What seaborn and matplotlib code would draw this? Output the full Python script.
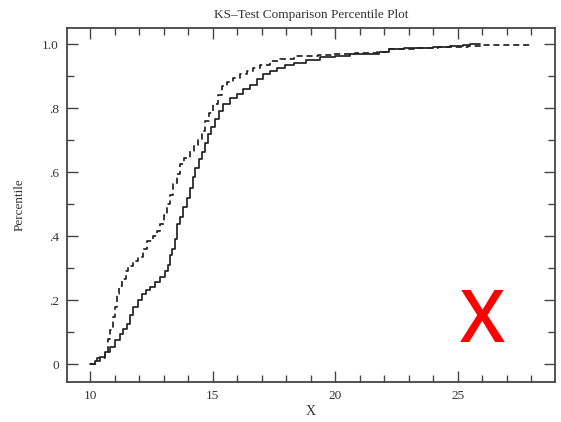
import matplotlib
matplotlib.use("Agg")
import matplotlib.pyplot as plt
from matplotlib.ticker import MultipleLocator, FixedLocator
import seaborn as sns

# ---- data ----
solid_x = [10.0, 10.2, 10.41, 10.6, 10.82, 11.0, 11.22, 11.35, 11.5, 11.65, 11.77, 11.95,
           12.1, 12.3, 12.45, 12.65, 12.86, 13.05, 13.2, 13.27, 13.33, 13.45, 13.54, 13.65,
           13.8, 13.95, 14.08, 14.2, 14.29, 14.45, 14.56, 14.7, 14.83, 14.95, 15.1, 15.25,
           15.43, 15.7, 16.0, 16.25, 16.53, 16.8, 17.06, 17.35, 17.63, 17.95, 18.3, 18.8,
           19.4, 20.0, 20.6, 21.2, 21.8, 22.2, 22.8, 23.3, 24.0, 24.7, 25.2, 25.5, 25.9]
solid_y = [0.0, 0.01, 0.023, 0.04, 0.054, 0.075, 0.095, 0.11, 0.127, 0.155, 0.179, 0.20,
           0.22, 0.232, 0.241, 0.257, 0.272, 0.29, 0.31, 0.34, 0.36, 0.39, 0.438, 0.46,
           0.49, 0.52, 0.552, 0.585, 0.614, 0.64, 0.662, 0.69, 0.718, 0.74, 0.765, 0.79,
           0.813, 0.83, 0.844, 0.86, 0.872, 0.89, 0.905, 0.915, 0.925, 0.935, 0.942, 0.95,
           0.958, 0.963, 0.968, 0.97, 0.974, 0.984, 0.987, 0.989, 0.991, 0.994, 0.997, 1.0, 1.0]

dashed_x = [10.0, 10.3, 10.6, 10.75, 10.82, 10.95, 11.02, 11.09, 11.2, 11.29, 11.45, 11.56,
            11.75, 11.97, 12.15, 12.31, 12.58, 12.75, 12.86, 13.0, 13.13, 13.27, 13.4, 13.55,
            13.67, 13.85, 14.08, 14.25, 14.42, 14.55, 14.69, 14.85, 15.0, 15.2, 15.37, 15.6,
            15.84, 16.1, 16.4, 16.65, 16.94, 17.35, 17.76, 18.3, 18.8, 19.3, 19.9, 20.8,
            21.7, 22.2, 23.2, 24.2, 25.4, 26.0, 28.0]
dashed_y = [0.0, 0.02, 0.04, 0.08, 0.106, 0.147, 0.18, 0.22, 0.245, 0.267, 0.29, 0.308,
            0.322, 0.336, 0.36, 0.386, 0.402, 0.415, 0.438, 0.465, 0.50, 0.53, 0.563, 0.595,
            0.625, 0.645, 0.667, 0.685, 0.703, 0.73, 0.76, 0.785, 0.813, 0.84, 0.869, 0.882,
            0.895, 0.905, 0.916, 0.926, 0.936, 0.947, 0.953, 0.962, 0.964, 0.967, 0.968, 0.972,
            0.976, 0.984, 0.988, 0.991, 0.994, 0.997, 0.997]

x_ticks = [10, 15, 20, 25]
x_tick_labels = ["10", "15", "20", "25"]
y_ticks = [0, 0.2, 0.4, 0.6, 0.8, 1.0]
y_tick_labels = ["0", ".2", ".4", ".6", ".8", "1.0"]

title = "KS\u2013Test Comparison Percentile Plot"
x_label = "X"
y_label = "Percentile"
mark_text = "X"

# ---- style ----
sns.set_theme(style="white")
plt.rcParams["font.family"] = ["Liberation Serif", "DejaVu Serif"]
txt = "#333333"

fig = plt.figure(figsize=(5.61, 4.22), dpi=100)
ax = fig.add_axes([0.1194, 0.0948, 0.8696, 0.8388])

sns.lineplot(x=solid_x, y=solid_y, ax=ax, color="#222222", linewidth=1.25,
             drawstyle="steps-post", estimator=None, sort=False)
sns.lineplot(x=dashed_x, y=dashed_y, ax=ax, color="#222222", linewidth=1.25,
             drawstyle="steps-post", estimator=None, sort=False, dashes=False,
             linestyle=(0, (3.5, 2.2)))

ax.set_xlim(9.06, 28.96)
ax.set_ylim(-0.055, 1.05)

ax.xaxis.set_major_locator(FixedLocator(x_ticks))
ax.set_xticklabels(x_tick_labels)
ax.xaxis.set_minor_locator(MultipleLocator(1))
ax.yaxis.set_major_locator(FixedLocator(y_ticks))
ax.set_yticklabels(y_tick_labels)
ax.yaxis.set_minor_locator(MultipleLocator(0.1))

ax.tick_params(which="both", direction="in", top=True, right=True, bottom=True, left=True,
               colors="#444444", labelcolor=txt, labelsize=9.5, width=1.0)
ax.tick_params(which="major", length=8, pad=6)
ax.tick_params(which="minor", length=5)
for s in ax.spines.values():
    s.set_color("#444444")
    s.set_linewidth(1.3)

ax.set_title(title, fontsize=9.5, color=txt, pad=7)
ax.set_xlabel(x_label, fontsize=10, color=txt, labelpad=2)
ax.set_ylabel(y_label, fontsize=9.5, color=txt, labelpad=12)

fig.text(0.859, 0.1895, mark_text, color="red", fontsize=52, fontweight="semibold",
         ha="center", va="baseline", family=["Open Sans", "DejaVu Sans"])

fig.savefig("out.png", dpi=100)
